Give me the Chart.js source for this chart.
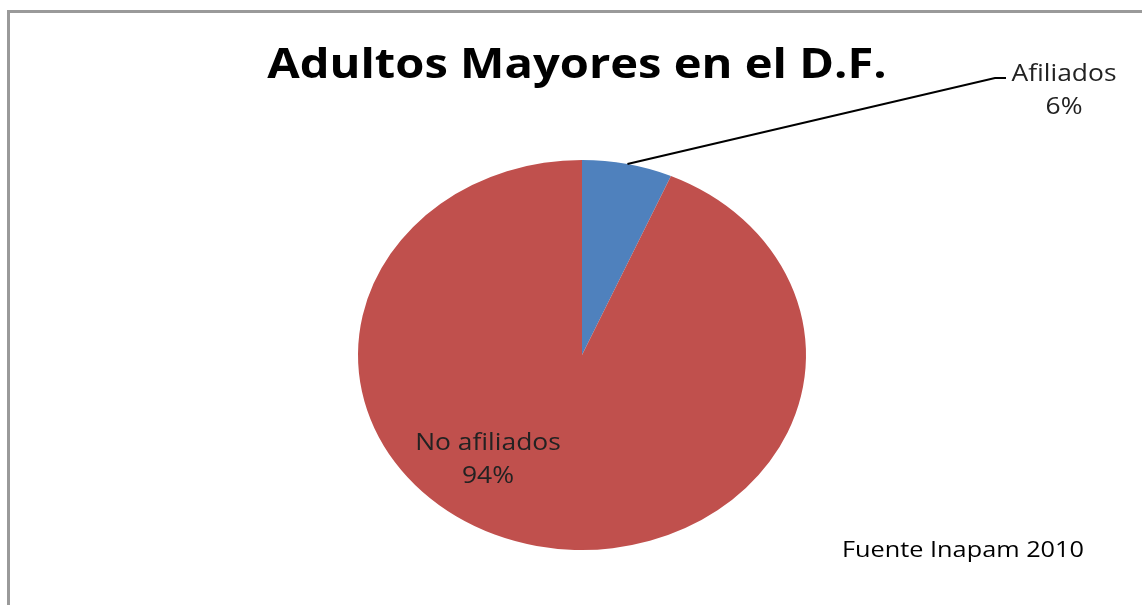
<!DOCTYPE html>
<html>
<head>
<meta charset="utf-8">
<script src="https://cdn.jsdelivr.net/npm/chart.js@4/dist/chart.umd.min.js"></script>
<style>
  html, body { margin: 0; padding: 0; background: #fff; }
  #wrap { position: relative; width: 1142px; height: 605px; overflow: hidden; }
  #frame { position: absolute; left: 7px; top: 10px; width: 1200px; height: 700px;
           border-left: 3px solid #9a9a9a; border-top: 3px solid #9a9a9a; }
  canvas { position: absolute; left: 0; top: 0; }
</style>
</head>
<body>
<div id="wrap">
  <div id="frame"></div>
  <canvas id="chart" width="1142" height="605"></canvas>
</div>
<script>
const chartTitle = "Adultos Mayores en el D.F."
const categories = ["Afiliados", "No afiliados"]
const values = [6.5, 93.5]
const percentLabels = ["6%", "94%"]
const colors = ["#4f81bd", "#c0504d"]
const source = "Fuente Inapam 2010"

// the original picture is stretched sideways, pie and text alike
const stretchX = 224 / 195

var ellipsePlugin = {
    id: "ellipse",
    beforeDatasetsDraw(chart) {
        var arc = chart.getDatasetMeta(0).data[0]
        var ctx = chart.ctx
        ctx.save()
        ctx.translate(arc.x, arc.y)
        ctx.scale(stretchX, 1)
        ctx.translate(-arc.x, -arc.y)
    },
    afterDatasetsDraw(chart) {
        chart.ctx.restore()
    }
}

function wideText(ctx, text, x, y) {
    ctx.save()
    ctx.translate(x, y)
    ctx.scale(stretchX, 1)
    ctx.fillText(text, 0, 0)
    ctx.restore()
}

var textPlugin = {
    id: "texts",
    afterDraw(chart) {
        var ctx = chart.ctx
        var arcs = chart.getDatasetMeta(0).data

        ctx.save()
        ctx.fillStyle = "#000"
        ctx.textAlign = "center"
        ctx.textBaseline = "middle"
        ctx.font = "bold 41px 'Open Sans', sans-serif"
        wideText(ctx, chartTitle, 577, 66)

        // leader line for the small slice
        var a = arcs[0]
        var mid = (a.startAngle + a.endAngle) / 2
        var sx = a.x + Math.cos(mid) * a.outerRadius * stretchX
        var sy = a.y + Math.sin(mid) * a.outerRadius
        ctx.strokeStyle = "#000"
        ctx.lineWidth = 2.2
        ctx.beginPath()
        ctx.moveTo(sx, sy)
        ctx.lineTo(995, 78)
        ctx.lineTo(1006, 78)
        ctx.stroke()

        ctx.fillStyle = "#222"
        ctx.font = "23px 'Open Sans', sans-serif"
        wideText(ctx, categories[0], 1064, 74)
        wideText(ctx, percentLabels[0], 1064, 107)
        wideText(ctx, categories[1], 488, 443)
        wideText(ctx, percentLabels[1], 488, 476)

        ctx.fillStyle = "#000"
        ctx.font = "22px 'Open Sans', sans-serif"
        wideText(ctx, source, 963, 551)
        ctx.restore()
    }
}

new Chart(document.getElementById("chart"), {
    type: "pie",
    data: {
        labels: categories,
        datasets: [{
            data: values,
            backgroundColor: colors,
            borderWidth: 0
        }]
    },
    options: {
        responsive: false,
        animation: false,
        layout: { padding: { left: 387, right: 365, top: 160, bottom: 55 } },
        plugins: {
            legend: { display: false },
            title: { display: false },
            tooltip: { enabled: false }
        }
    },
    plugins: [ellipsePlugin, textPlugin]
})
</script>
</body>
</html>
